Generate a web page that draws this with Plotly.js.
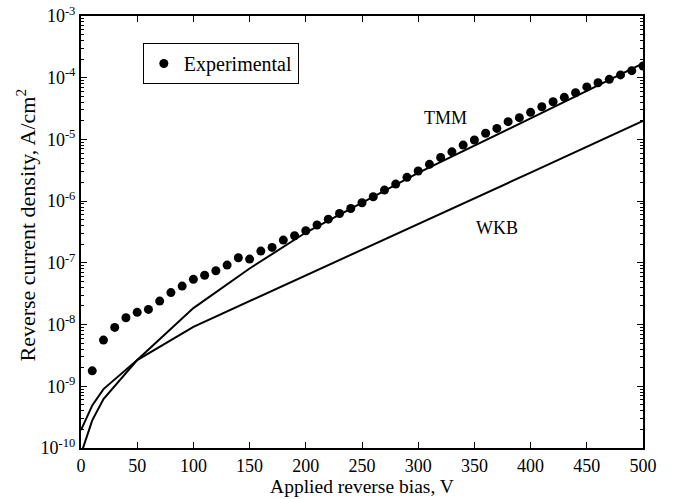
<!DOCTYPE html>
<html>
<head>
<meta charset="utf-8">
<script src="https://cdn.plot.ly/plotly-3.0.1.min.js"></script>
<style>html,body{margin:0;padding:0;background:#fff;}#chart{width:676px;height:499px;}</style>
</head>
<body>
<div id="chart"></div>
<script>
const expBias = [10,20,30,40,50,60,70,80,90,100,110,120,130,140,150,160,170,180,190,200,
  210,220,230,240,250,260,270,280,290,300,310,320,330,340,350,360,370,380,390,400,
  410,420,430,440,450,460,470,480,490,500];
const expCurrent = [1.78e-9,5.6e-9,9.0e-9,1.29e-8,1.58e-8,1.76e-8,2.4e-8,3.3e-8,4.2e-8,5.4e-8,
  6.3e-8,7.45e-8,9.2e-8,1.21e-7,1.15e-7,1.55e-7,1.78e-7,2.34e-7,2.75e-7,3.31e-7,
  4.1e-7,5.1e-7,6.3e-7,7.6e-7,9.4e-7,1.18e-6,1.51e-6,1.89e-6,2.43e-6,3.08e-6,
  3.95e-6,5.1e-6,6.3e-6,8.1e-6,9.8e-6,1.26e-5,1.51e-5,1.94e-5,2.25e-5,2.75e-5,
  3.39e-5,4.08e-5,4.81e-5,5.7e-5,7.1e-5,8.3e-5,9.4e-5,1.11e-4,1.30e-4,1.55e-4];

const tmmBias = [0,10,20,50,100,150,200,300,400,500];
const tmmCurrent = [8e-11,2.8e-10,6.2e-10,2.66e-9,1.85e-8,8.1e-8,3.1e-7,2.87e-6,2.2e-5,1.71e-4];

const wkbBias = [0,10,20,50,100,200,300,400,500];
const wkbCurrent = [1.95e-10,4.9e-10,9.0e-10,2.66e-9,9.2e-9,6.2e-8,4.3e-7,2.9e-6,2.0e-5];

const xTicks = [0,50,100,150,200,250,300,350,400,450,500];
const yExponents = [-10,-9,-8,-7,-6,-5,-4,-3];
const yTickVals = yExponents.map(e => Math.pow(10, e));
const yTickText = yExponents.map(e => '10<sup>' + e + '</sup>');
const yMinorVals = [];
yExponents.slice(0, -1).forEach(e => { for (let m = 2; m <= 9; m++) yMinorVals.push(m * Math.pow(10, e)); });

const font = {family: 'Liberation Serif, Times New Roman, serif', color: '#000'};

const traces = [
  {x: tmmBias, y: tmmCurrent, mode: 'lines', line: {color: '#000', width: 2}, showlegend: false, name: 'TMM'},
  {x: wkbBias, y: wkbCurrent, mode: 'lines', line: {color: '#000', width: 2}, showlegend: false, name: 'WKB'},
  {x: expBias, y: expCurrent, mode: 'markers', marker: {color: '#000', size: 9}, name: 'Experimental', showlegend: true}
];

const layout = {
  width: 676, height: 499,
  margin: {l: 81, r: 33, t: 16, b: 51},
  paper_bgcolor: '#fff', plot_bgcolor: '#fff',
  font: Object.assign({size: 18}, font),
  showlegend: true,
  legend: {x: 0.11, y: 0.9375, xanchor: 'left', yanchor: 'top', bordercolor: '#000', borderwidth: 1,
    bgcolor: '#fff', font: Object.assign({size: 20}, font)},
  xaxis: {
    range: [0, 500], tickvals: xTicks, ticktext: xTicks.map(String),
    ticks: 'inside', ticklen: 6, tickwidth: 1, tickcolor: '#000',
    showline: true, linecolor: '#000', linewidth: 2, mirror: 'ticks',
    showgrid: false, zeroline: false,
    tickfont: Object.assign({size: 18}, font),
    title: {text: 'Applied reverse bias, V', font: Object.assign({size: 19.5}, font), standoff: 2}
  },
  yaxis: {
    type: 'log', range: [-10, -3], tickmode: 'array', tickvals: yTickVals, ticktext: yTickText,
    ticks: 'inside', ticklen: 6, tickwidth: 1, tickcolor: '#000',
    minor: {tickmode: 'array', tickvals: yMinorVals, ticks: 'inside', ticklen: 3, tickcolor: '#000', showgrid: false},
    showline: true, linecolor: '#000', linewidth: 2, mirror: 'ticks',
    showgrid: false, zeroline: false,
    tickfont: Object.assign({size: 18}, font)
  },
  annotations: [
    {x: 324, y: -4.653, xref: 'x', yref: 'y', text: 'TMM', showarrow: false, font: Object.assign({size: 18}, font)},
    {x: 370, y: -6.436, xref: 'x', yref: 'y', text: 'WKB', showarrow: false, font: Object.assign({size: 18}, font)},
    {x: -0.0996, y: 0.515, xref: 'paper', yref: 'paper', xanchor: 'center', yanchor: 'middle', textangle: -90,
     text: 'Reverse current density, A/cm<sup>2</sup>', showarrow: false, font: Object.assign({size: 22}, font)}
  ]
};

Plotly.newPlot('chart', traces, layout, {displayModeBar: false, staticPlot: true});
</script>
</body>
</html>
